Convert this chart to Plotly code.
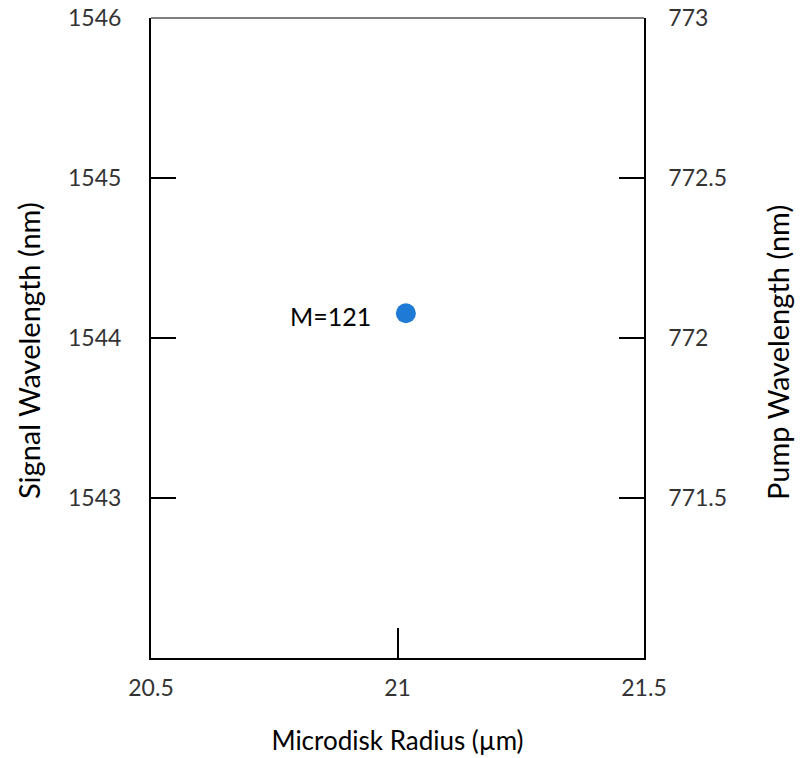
import plotly.graph_objects as go

radius = [21.017]
signal_wl = [1544.155]
mode_labels = ["M=121"]

x_ticks = [20.5, 21, 21.5]
y_ticks = [1543, 1544, 1545, 1546]
y2_ticks = [771.5, 772, 772.5, 773]

FONT = "Lato"
tick_fs = 23

fig = go.Figure()
fig.add_trace(go.Scatter(
    x=radius, y=signal_wl, mode="markers",
    marker=dict(size=20, color="#1f7ad6"),
    showlegend=False, hoverinfo="skip"))
fig.add_trace(go.Scatter(x=[None], y=[None], yaxis="y2", showlegend=False))

for xv, yv, t in zip(radius, signal_wl, mode_labels):
    fig.add_annotation(x=xv, y=yv, text=t, showarrow=False, xanchor="right",
                       xshift=-33, yshift=-3, font=dict(family=FONT, size=25, color="#000"))

# axis titles placed as annotations for exact positioning
fig.add_annotation(xref="paper", yref="paper", x=0, y=0.5, text="Signal Wavelength (nm)",
                   textangle=-90, showarrow=False, xanchor="center", yanchor="middle",
                   xshift=-123, yshift=-13, font=dict(family=FONT, size=29, color="#000"))
fig.add_annotation(xref="paper", yref="paper", x=1, y=0.5, text="Pump Wavelength (nm)",
                   textangle=-90, showarrow=False, xanchor="center", yanchor="middle",
                   xshift=133, yshift=-15, font=dict(family=FONT, size=29, color="#000"))

fig.update_layout(
    width=811, height=758,
    margin=dict(l=151, r=167, t=18, b=100),
    paper_bgcolor="white", plot_bgcolor="white",
    font=dict(family=FONT, size=tick_fs, color="#333"),
    xaxis=dict(range=[20.5, 21.5], tickvals=x_ticks, ticktext=["20.5", "21", "21.5"],
               automargin=False,
               showgrid=False, zeroline=False, showline=True, linecolor="black", linewidth=2,
               ticks="inside", ticklen=30, tickwidth=2, tickcolor="black",
               ticklabelstandoff=8,
               title=dict(text="Microdisk Radius (µm)", standoff=32,
                          font=dict(size=26, color="#000"))),
    yaxis=dict(range=[1542, 1546], tickvals=y_ticks, automargin=False,
               showgrid=False, zeroline=False, showline=True, linecolor="black", linewidth=2,
               ticks="inside", ticklen=25, tickwidth=2, tickcolor="black",
               ticklabelstandoff=23),
    yaxis2=dict(range=[771, 773], tickvals=y2_ticks, overlaying="y", side="right",
                automargin=False,
                showgrid=False, zeroline=False, showline=True, linecolor="black", linewidth=1.5,
                ticks="inside", ticklen=25, tickwidth=1.5, tickcolor="black",
                ticklabelstandoff=18),
    shapes=[dict(type="line", xref="paper", yref="paper", x0=0, x1=1, y0=1, y1=1,
                 line=dict(color="black", width=1.2))],
)

fig.write_html("out.html")
